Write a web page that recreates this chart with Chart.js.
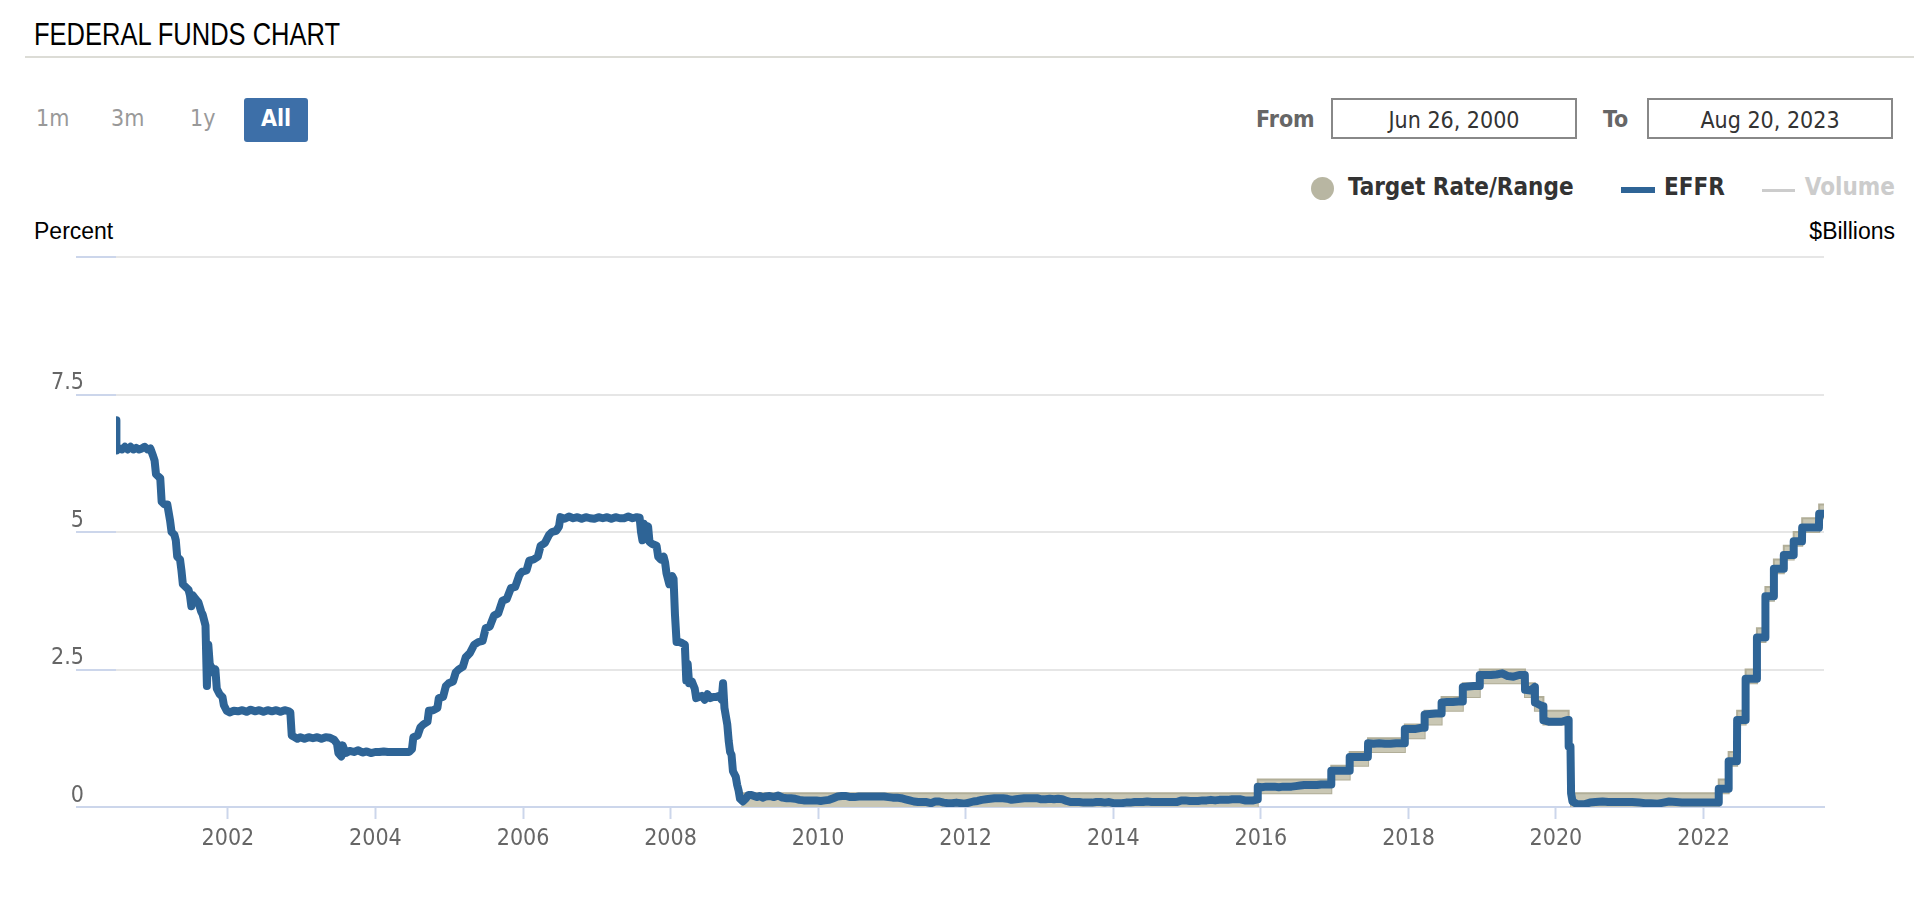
<!DOCTYPE html>
<html>
<head>
<meta charset="utf-8">
<title>Federal Funds Chart</title>
<script src="https://cdn.jsdelivr.net/npm/chart.js@4.4.0/dist/chart.umd.min.js"></script>
<style>
  body { margin: 0; background: #fff; width: 1914px; height: 904px; position: relative; overflow: hidden;
         font-family: 'DejaVu Sans Condensed', 'DejaVu Sans', sans-serif; }
  .abs { position: absolute; white-space: nowrap; }
  .title { left: 34px; top: 14px; height: 40px; line-height: 40px; font-size: 32px; color: #000;
           font-family: 'Liberation Sans', Arial, sans-serif; transform-origin: 0 50%; }
  .rule { left: 25px; right: 0; top: 56px; height: 2px; background: #dcdcd6; }
  .btn { top: 98px; height: 40px; line-height: 40px; font-size: 23px; color: #999; }
  .btn.on { background: #3d6fa8; color: #fff; border-radius: 3px; height: 44px; width: 64px; text-align: center; font-weight: bold; }
  .lbl { top: 98px; height: 42px; line-height: 42px; font-size: 23px; font-weight: bold; color: #666; }
  .box { top: 98px; height: 41px; line-height: 41px; width: 246px; border: 2px solid #888; box-sizing: border-box;
         text-align: center; font-size: 23px; color: #333; }
  .leg { top: 170px; height: 34px; line-height: 34px; font-size: 24px; font-weight: bold; color: #333; }
  .axt { top: 219px; height: 24px; line-height: 24px; font-size: 23px; color: #000;
         font-family: 'Liberation Sans', Arial, sans-serif; }
  #fedChart { position: absolute; left: 0; top: 240px; }
</style>
</head>
<body>
<div class="abs title" id="title">FEDERAL FUNDS CHART</div>
<div class="abs rule"></div>

<div class="abs btn" style="left:36px">1m</div>
<div class="abs btn" style="left:111px">3m</div>
<div class="abs btn" style="left:190px">1y</div>
<div class="abs btn on" style="left:244px">All</div>

<div class="abs lbl" style="left:1256px">From</div>
<div class="abs box" style="left:1331px">Jun 26, 2000</div>
<div class="abs lbl" style="left:1603px">To</div>
<div class="abs box" style="left:1647px">Aug 20, 2023</div>

<div class="abs" style="left:1311px;top:177px;width:23px;height:23px;border-radius:50%;background:#b8b6a2"></div>
<div class="abs leg" style="left:1348px">Target Rate/Range</div>
<div class="abs" style="left:1621px;top:187px;width:34px;height:6px;background:#2e6496"></div>
<div class="abs leg" style="left:1664px">EFFR</div>
<div class="abs" style="left:1762px;top:189px;width:33px;height:3px;background:#cccccc"></div>
<div class="abs leg" style="right:19px;color:#cccccc">Volume</div>

<div class="abs axt" style="left:34px">Percent</div>
<div class="abs axt" style="right:19px">$Billions</div>

<canvas id="fedChart" width="1914" height="664"></canvas>

<script>
// axis ticks
const xTickYears = [2002, 2004, 2006, 2008, 2010, 2012, 2014, 2016, 2018, 2020, 2022];
const yTicks = [0, 2.5, 5, 7.5, 10];
const startDate = '2000-06-26';
const endDate = '2023-08-20';

// effective federal funds rate, percent
const effrPoints = [
  ['2000-06-26', 7.03], ['2000-06-28', 6.48], ['2000-07-12', 6.52], ['2000-07-26', 6.50], ['2000-08-09', 6.55],
  ['2000-08-23', 6.50], ['2000-09-06', 6.55], ['2000-09-20', 6.50], ['2000-10-04', 6.53], ['2000-10-18', 6.50],
  ['2000-11-01', 6.52], ['2000-11-15', 6.55], ['2000-11-29', 6.50], ['2000-12-13', 6.52], ['2000-12-27', 6.38],
  ['2001-01-03', 6.30], ['2001-01-10', 6.05], ['2001-01-24', 6.00], ['2001-01-31', 5.98], ['2001-02-07', 5.55],
  ['2001-02-21', 5.50], ['2001-03-07', 5.50], ['2001-03-21', 5.20], ['2001-03-28', 5.00], ['2001-04-11', 4.95],
  ['2001-04-18', 4.85], ['2001-04-25', 4.55], ['2001-05-09', 4.50], ['2001-05-16', 4.30], ['2001-05-23', 4.05],
  ['2001-06-06', 4.00], ['2001-06-20', 3.95], ['2001-06-27', 3.85], ['2001-07-04', 3.65], ['2001-07-11', 3.85],
  ['2001-07-25', 3.78], ['2001-08-08', 3.72], ['2001-08-22', 3.55], ['2001-08-29', 3.50], ['2001-09-05', 3.40],
  ['2001-09-12', 3.30], ['2001-09-19', 2.20], ['2001-09-26', 2.95], ['2001-10-03', 2.60], ['2001-10-10', 2.55],
  ['2001-10-17', 2.45], ['2001-10-31', 2.50], ['2001-11-07', 2.15], ['2001-11-21', 2.05], ['2001-12-05', 2.00],
  ['2001-12-12', 1.85], ['2001-12-26', 1.75],
  ['2002-01-09', 1.72], ['2002-01-30', 1.75], ['2002-02-20', 1.74], ['2002-03-13', 1.76], ['2002-04-03', 1.73],
  ['2002-04-24', 1.77], ['2002-05-15', 1.74], ['2002-06-05', 1.76], ['2002-06-26', 1.73], ['2002-07-17', 1.76],
  ['2002-08-07', 1.74], ['2002-08-28', 1.76], ['2002-09-18', 1.73], ['2002-10-09', 1.76], ['2002-10-30', 1.74],
  ['2002-11-06', 1.72], ['2002-11-13', 1.30], ['2002-11-27', 1.27], ['2002-12-11', 1.24], ['2002-12-25', 1.27],
  ['2003-01-15', 1.24], ['2003-02-05', 1.27], ['2003-02-26', 1.25], ['2003-03-19', 1.27], ['2003-04-09', 1.24],
  ['2003-04-30', 1.27], ['2003-05-21', 1.26], ['2003-06-11', 1.22], ['2003-06-25', 1.15], ['2003-07-02', 0.98],
  ['2003-07-16', 0.92], ['2003-07-23', 1.12], ['2003-08-06', 0.98], ['2003-08-27', 1.02], ['2003-09-17', 1.00],
  ['2003-10-08', 1.03], ['2003-10-29', 0.99], ['2003-11-19', 1.01], ['2003-12-10', 0.98], ['2003-12-31', 1.00],
  ['2004-01-21', 1.00], ['2004-02-11', 1.01], ['2004-03-03', 1.00], ['2004-04-14', 1.00], ['2004-05-26', 1.00],
  ['2004-06-16', 1.00], ['2004-06-30', 1.05], ['2004-07-07', 1.27], ['2004-07-28', 1.30], ['2004-08-11', 1.45],
  ['2004-08-25', 1.50], ['2004-09-15', 1.55], ['2004-09-22', 1.75], ['2004-10-13', 1.76], ['2004-11-03', 1.80],
  ['2004-11-10', 1.98], ['2004-12-01', 2.00], ['2004-12-15', 2.20], ['2004-12-29', 2.25],
  ['2005-01-19', 2.28], ['2005-02-02', 2.45], ['2005-02-16', 2.50], ['2005-03-09', 2.55], ['2005-03-23', 2.72],
  ['2005-04-13', 2.80], ['2005-05-04', 2.95], ['2005-05-25', 3.00], ['2005-06-15', 3.02], ['2005-06-30', 3.25],
  ['2005-07-20', 3.28], ['2005-08-10', 3.48], ['2005-08-31', 3.52], ['2005-09-21', 3.75], ['2005-10-12', 3.78],
  ['2005-11-02', 3.98], ['2005-11-23', 4.00], ['2005-12-14', 4.22], ['2005-12-28', 4.28],
  ['2006-01-18', 4.30], ['2006-02-01', 4.48], ['2006-02-22', 4.50], ['2006-03-15', 4.55], ['2006-03-29', 4.75],
  ['2006-04-19', 4.80], ['2006-05-10', 4.95], ['2006-05-24', 5.00], ['2006-06-14', 5.02], ['2006-06-28', 5.10],
  ['2006-07-05', 5.27], ['2006-07-26', 5.24], ['2006-08-16', 5.28], ['2006-09-06', 5.25], ['2006-09-27', 5.27],
  ['2006-10-18', 5.24], ['2006-11-08', 5.27], ['2006-11-29', 5.25], ['2006-12-20', 5.24],
  ['2007-01-10', 5.27], ['2007-01-31', 5.25], ['2007-02-21', 5.27], ['2007-03-14', 5.24], ['2007-04-04', 5.27],
  ['2007-04-25', 5.25], ['2007-05-16', 5.25], ['2007-06-06', 5.28], ['2007-06-27', 5.25], ['2007-07-18', 5.27],
  ['2007-08-01', 5.26], ['2007-08-08', 5.00], ['2007-08-15', 4.85], ['2007-08-22', 5.15], ['2007-08-29', 5.02],
  ['2007-09-12', 5.10], ['2007-09-19', 4.82], ['2007-10-03', 4.78], ['2007-10-24', 4.75], ['2007-11-01', 4.55],
  ['2007-11-14', 4.50], ['2007-11-28', 4.55], ['2007-12-05', 4.45], ['2007-12-12', 4.25], ['2007-12-26', 4.05],
  ['2008-01-09', 4.20], ['2008-01-16', 4.15], ['2008-01-23', 3.50], ['2008-01-31', 3.00], ['2008-02-13', 3.00],
  ['2008-02-27', 2.98], ['2008-03-12', 2.95], ['2008-03-19', 2.30], ['2008-03-26', 2.60], ['2008-04-02', 2.25],
  ['2008-04-16', 2.28], ['2008-04-30', 2.15], ['2008-05-07', 1.98], ['2008-05-21', 2.00], ['2008-06-04', 2.02],
  ['2008-06-18', 1.95], ['2008-07-02', 2.05], ['2008-07-16', 1.98], ['2008-07-30', 2.00], ['2008-08-13', 2.00],
  ['2008-08-27', 2.02], ['2008-09-10', 1.95], ['2008-09-17', 2.25], ['2008-09-24', 1.80], ['2008-10-01', 1.65],
  ['2008-10-08', 1.50], ['2008-10-15', 1.20], ['2008-10-22', 1.00], ['2008-10-29', 0.95], ['2008-11-05', 0.65],
  ['2008-11-19', 0.55], ['2008-11-26', 0.40], ['2008-12-03', 0.30], ['2008-12-10', 0.15], ['2008-12-24', 0.10],
  ['2009-01-07', 0.15], ['2009-01-21', 0.22], ['2009-02-04', 0.22], ['2009-02-18', 0.20], ['2009-03-04', 0.18],
  ['2009-03-18', 0.20], ['2009-04-01', 0.17], ['2009-04-15', 0.19], ['2009-05-06', 0.20], ['2009-05-27', 0.18],
  ['2009-06-17', 0.21], ['2009-07-08', 0.17], ['2009-07-29', 0.16], ['2009-08-19', 0.16], ['2009-09-09', 0.15],
  ['2009-09-30', 0.13], ['2009-10-21', 0.12], ['2009-11-11', 0.12], ['2009-12-02', 0.12], ['2009-12-23', 0.12],
  ['2010-01-13', 0.11], ['2010-02-03', 0.12], ['2010-02-24', 0.13], ['2010-03-17', 0.16], ['2010-04-07', 0.19],
  ['2010-04-28', 0.20], ['2010-05-19', 0.20], ['2010-06-09', 0.18], ['2010-06-30', 0.18], ['2010-07-21', 0.19],
  ['2010-08-11', 0.19], ['2010-09-01', 0.19], ['2010-09-22', 0.19], ['2010-10-13', 0.19], ['2010-11-03', 0.19],
  ['2010-11-24', 0.19], ['2010-12-15', 0.18],
  ['2011-01-05', 0.17], ['2011-01-26', 0.17], ['2011-02-16', 0.16], ['2011-03-09', 0.14], ['2011-03-30', 0.12],
  ['2011-04-20', 0.10], ['2011-05-11', 0.09], ['2011-06-01', 0.09], ['2011-06-22', 0.09], ['2011-07-13', 0.07],
  ['2011-08-03', 0.10], ['2011-08-24', 0.10], ['2011-09-14', 0.08], ['2011-10-05', 0.07], ['2011-10-26', 0.07],
  ['2011-11-16', 0.08], ['2011-12-07', 0.07], ['2011-12-28', 0.06],
  ['2012-01-18', 0.08], ['2012-02-08', 0.10], ['2012-02-29', 0.11], ['2012-03-21', 0.13], ['2012-04-11', 0.14],
  ['2012-05-02', 0.15], ['2012-05-23', 0.16], ['2012-06-13', 0.16], ['2012-07-04', 0.16], ['2012-07-25', 0.15],
  ['2012-08-15', 0.13], ['2012-09-05', 0.14], ['2012-09-26', 0.15], ['2012-10-17', 0.16], ['2012-11-07', 0.16],
  ['2012-11-28', 0.16], ['2012-12-19', 0.16],
  ['2013-01-09', 0.14], ['2013-01-30', 0.14], ['2013-02-20', 0.15], ['2013-03-13', 0.14], ['2013-04-03', 0.15],
  ['2013-04-24', 0.14], ['2013-05-15', 0.11], ['2013-06-05', 0.09], ['2013-06-26', 0.09], ['2013-07-17', 0.09],
  ['2013-08-07', 0.08], ['2013-08-28', 0.08], ['2013-09-18', 0.08], ['2013-10-09', 0.09], ['2013-10-30', 0.09],
  ['2013-11-20', 0.08], ['2013-12-11', 0.09],
  ['2014-01-01', 0.07], ['2014-01-22', 0.07], ['2014-02-12', 0.07], ['2014-03-05', 0.08], ['2014-03-26', 0.08],
  ['2014-04-16', 0.09], ['2014-05-07', 0.09], ['2014-05-28', 0.09], ['2014-06-18', 0.10], ['2014-07-09', 0.09],
  ['2014-07-30', 0.09], ['2014-08-20', 0.09], ['2014-09-10', 0.09], ['2014-10-01', 0.09], ['2014-10-22', 0.09],
  ['2014-11-12', 0.09], ['2014-12-03', 0.12], ['2014-12-24', 0.12],
  ['2015-01-14', 0.11], ['2015-02-04', 0.11], ['2015-02-25', 0.11], ['2015-03-18', 0.12], ['2015-04-08', 0.12],
  ['2015-04-29', 0.13], ['2015-05-20', 0.12], ['2015-06-10', 0.13], ['2015-07-01', 0.13], ['2015-07-22', 0.13],
  ['2015-08-12', 0.14], ['2015-09-02', 0.14], ['2015-09-23', 0.14], ['2015-10-14', 0.12], ['2015-11-04', 0.12],
  ['2015-11-25', 0.12], ['2015-12-16', 0.14], ['2015-12-17', 0.37],
  ['2016-01-06', 0.36], ['2016-01-27', 0.37], ['2016-02-17', 0.37], ['2016-03-09', 0.37], ['2016-03-30', 0.36],
  ['2016-04-20', 0.37], ['2016-05-11', 0.37], ['2016-06-01', 0.37], ['2016-06-22', 0.38], ['2016-07-13', 0.39],
  ['2016-08-03', 0.40], ['2016-08-24', 0.40], ['2016-09-14', 0.40], ['2016-10-05', 0.40], ['2016-10-26', 0.41],
  ['2016-11-16', 0.41], ['2016-12-07', 0.41], ['2016-12-14', 0.41], ['2016-12-15', 0.66],
  ['2017-01-04', 0.66], ['2017-02-01', 0.66], ['2017-03-01', 0.66], ['2017-03-15', 0.66], ['2017-03-16', 0.91],
  ['2017-04-12', 0.91], ['2017-05-10', 0.91], ['2017-06-14', 0.91], ['2017-06-15', 1.16], ['2017-07-12', 1.15],
  ['2017-08-09', 1.16], ['2017-09-06', 1.15], ['2017-10-04', 1.15], ['2017-11-01', 1.16], ['2017-12-13', 1.16],
  ['2017-12-14', 1.42],
  ['2018-01-10', 1.42], ['2018-02-07', 1.42], ['2018-03-07', 1.44], ['2018-03-21', 1.44], ['2018-03-22', 1.68],
  ['2018-04-18', 1.69], ['2018-05-16', 1.70], ['2018-06-13', 1.70], ['2018-06-14', 1.90], ['2018-07-11', 1.91],
  ['2018-08-08', 1.91], ['2018-09-05', 1.92], ['2018-09-26', 1.92], ['2018-09-27', 2.18], ['2018-10-24', 2.19],
  ['2018-11-21', 2.20], ['2018-12-19', 2.20], ['2018-12-20', 2.40],
  ['2019-01-16', 2.40], ['2019-02-13', 2.40], ['2019-03-13', 2.41], ['2019-04-10', 2.43], ['2019-05-08', 2.38],
  ['2019-06-05', 2.37], ['2019-07-03', 2.40], ['2019-07-31', 2.40], ['2019-08-01', 2.13], ['2019-08-28', 2.12],
  ['2019-09-18', 2.18], ['2019-09-19', 1.90], ['2019-10-16', 1.85],
  ['2019-10-30', 1.83], ['2019-10-31', 1.58], ['2019-11-27', 1.55], ['2019-12-31', 1.55],
  ['2020-01-29', 1.55], ['2020-02-26', 1.58], ['2020-03-03', 1.58], ['2020-03-04', 1.10], ['2020-03-13', 1.10],
  ['2020-03-16', 0.25], ['2020-03-23', 0.10], ['2020-04-15', 0.05], ['2020-05-20', 0.05], ['2020-06-17', 0.08],
  ['2020-07-15', 0.09], ['2020-08-19', 0.10], ['2020-09-16', 0.09], ['2020-10-14', 0.09], ['2020-11-18', 0.09],
  ['2020-12-16', 0.09],
  ['2021-01-13', 0.09], ['2021-02-17', 0.08], ['2021-03-17', 0.07], ['2021-04-14', 0.07], ['2021-05-19', 0.06],
  ['2021-06-16', 0.08], ['2021-07-14', 0.10], ['2021-08-18', 0.09], ['2021-09-15', 0.08], ['2021-10-13', 0.08],
  ['2021-11-17', 0.08], ['2021-12-15', 0.08],
  ['2022-01-12', 0.08], ['2022-02-16', 0.08], ['2022-03-16', 0.08], ['2022-03-17', 0.33], ['2022-04-20', 0.33],
  ['2022-05-04', 0.33], ['2022-05-05', 0.83], ['2022-06-15', 0.83], ['2022-06-16', 1.58], ['2022-07-27', 1.58],
  ['2022-07-28', 2.33], ['2022-09-21', 2.33], ['2022-09-22', 3.08], ['2022-11-02', 3.08], ['2022-11-03', 3.83],
  ['2022-12-14', 3.83], ['2022-12-15', 4.33],
  ['2023-02-01', 4.33], ['2023-02-02', 4.58], ['2023-03-22', 4.58], ['2023-03-23', 4.83], ['2023-05-03', 4.83],
  ['2023-05-04', 5.08], ['2023-07-26', 5.08], ['2023-07-27', 5.33], ['2023-08-18', 5.33]
];

// target range (lower / upper limit), shown from Dec 2008
const targetDates = ['2008-12-16', '2015-12-17', '2016-12-15', '2017-03-16', '2017-06-15', '2017-12-14',
  '2018-03-22', '2018-06-14', '2018-09-27', '2018-12-20', '2019-08-01', '2019-09-19', '2019-10-31',
  '2020-03-04', '2020-03-16', '2022-03-17', '2022-05-05', '2022-06-16', '2022-07-28', '2022-09-22',
  '2022-11-03', '2022-12-15', '2023-02-02', '2023-03-23', '2023-05-04', '2023-07-27', '2023-08-20'];
const targetLow = [0, 0.25, 0.5, 0.75, 1.0, 1.25, 1.5, 1.75, 2.0, 2.25, 2.0, 1.75, 1.5,
  1.0, 0, 0.25, 0.75, 1.5, 2.25, 3.0, 3.75, 4.25, 4.5, 4.75, 5.0, 5.25, 5.25];
const targetHigh = [0.25, 0.5, 0.75, 1.0, 1.25, 1.5, 1.75, 2.0, 2.25, 2.5, 2.25, 2.0, 1.75,
  1.25, 0.25, 0.5, 1.0, 1.75, 2.5, 3.25, 4.0, 4.5, 4.75, 5.0, 5.25, 5.5, 5.5];

const toTime = d => Date.parse(d + 'T00:00:00Z');

// squeeze the heading into the narrow width of the original
const title = document.getElementById('title');
title.style.transform = 'scaleX(' + (306 / title.offsetWidth) + ')';

Chart.defaults.font.family = "'DejaVu Sans Condensed', 'DejaVu Sans', sans-serif";

const ctx = document.getElementById('fedChart').getContext('2d');
new Chart(ctx, {
  type: 'line',
  data: {
    datasets: [
      {
        label: 'EFFR',
        data: effrPoints.map(p => ({ x: toTime(p[0]), y: p[1] })),
        borderColor: '#2e6496',
        borderWidth: 8,
        borderJoinStyle: 'round',
        borderCapStyle: 'round',
        pointRadius: 0,
        fill: false
      },
      {
        label: 'Target Rate/Range',
        data: targetDates.map((d, i) => ({ x: toTime(d), y: targetHigh[i] })),
        stepped: true,
        borderColor: '#b1ae98',
        borderWidth: 2,
        backgroundColor: '#c9c7b4',
        pointRadius: 0,
        fill: '+1'
      },
      {
        label: 'Target low',
        data: targetDates.map((d, i) => ({ x: toTime(d), y: targetLow[i] })),
        stepped: true,
        borderColor: '#b1ae98',
        borderWidth: 2,
        pointRadius: 0,
        fill: false
      }
    ]
  },
  options: {
    responsive: false,
    animation: false,
    devicePixelRatio: 1,
    layout: { padding: { top: 17, right: 90, bottom: 0, left: 0 } },
    plugins: { legend: { display: false }, tooltip: { enabled: false } },
    scales: {
      x: {
        type: 'linear',
        min: toTime(startDate),
        max: toTime(endDate),
        afterBuildTicks: axis => { axis.ticks = xTickYears.map(y => ({ value: Date.UTC(y, 0, 1) })); },
        afterFit: axis => { axis.height = 97; },
        grid: { drawOnChartArea: false, drawTicks: true, tickLength: 12, tickColor: '#ccd6eb', tickWidth: 2 },
        border: { color: '#ccd6eb', width: 2 },
        ticks: {
          color: '#666',
          font: { size: 23 },
          padding: 6,
          maxRotation: 0,
          callback: v => new Date(v).getUTCFullYear()
        }
      },
      y: {
        min: 0,
        max: 10,
        afterBuildTicks: axis => { axis.ticks = yTicks.map(v => ({ value: v })); },
        afterFit: axis => { axis.width = 116; },
        grid: {
          color: c => (c.tick && c.tick.value === 0) ? '#ccd6eb' : '#e6e6e6',
          lineWidth: 2,
          tickLength: 40,
          tickColor: '#ccd6eb',
          tickWidth: 2
        },
        border: { display: false },
        ticks: {
          color: '#666',
          font: { size: 23 },
          padding: -8,
          labelOffset: -11,
          callback: v => v === 10 ? '' : String(v)
        }
      }
    }
  }
});
</script>
</body>
</html>
